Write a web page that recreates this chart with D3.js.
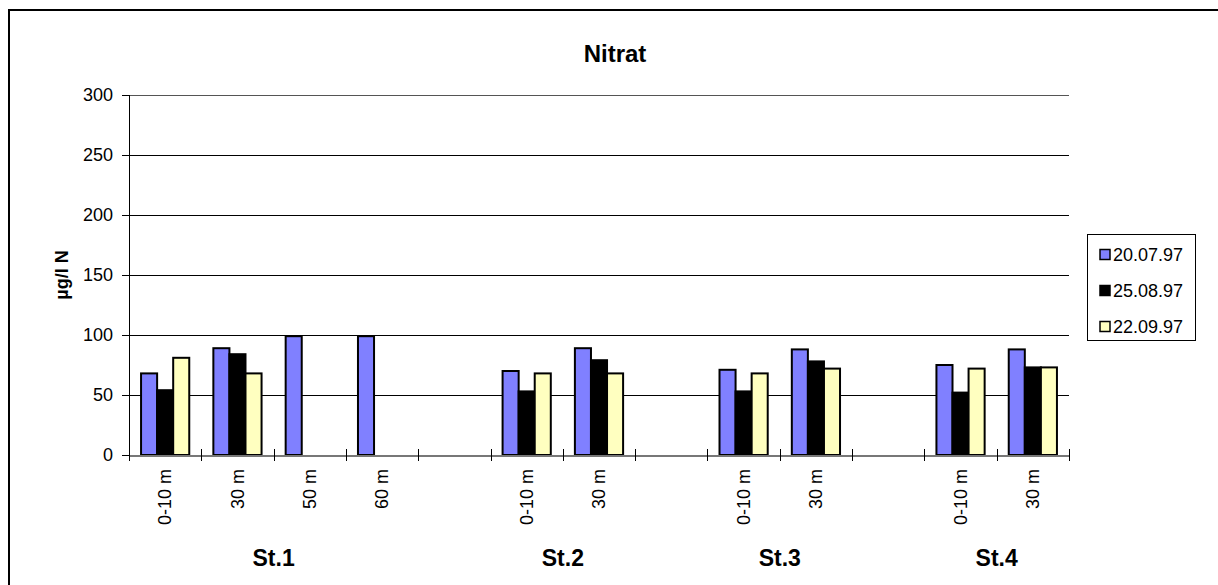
<!DOCTYPE html>
<meta charset="utf-8">
<script src="https://d3js.org/d3.v7.min.js"></script>
<style>
  body { margin: 0; background: #fff; }
  text { font-family: Arial, "Liberation Sans", sans-serif; fill: #000; }
  line, path.domain { shape-rendering: crispEdges; }
</style>
<svg id="chart" width="1218" height="585"></svg>
<script>
  // depth labels per category (blank ones separate the stations)
  var catLabels = ["0-10 m", "30 m", "50 m", "60 m", "", "0-10 m", "30 m", "", "0-10 m", "30 m", "", "0-10 m", "30 m"];
  var stations = ["St.1", "St.2", "St.3", "St.4"];
  var stationCats = [[0, 3], [5, 6], [8, 9], [11, 12]];
  var seriesNames = ["20.07.97", "25.08.97", "22.09.97"];
  var s1 = [68, 89, 99, 99, null, 70, 89, null, 71, 88, null, 75, 88];
  var s2 = [54, 84, null, null, null, 53, 79, null, 53, 78, null, 52, 73];
  var s3 = [81, 68, null, null, null, 68, 68, null, 68, 72, null, 72, 73];
  var yTicks = [0, 50, 100, 150, 200, 250, 300];
  var colors = ["#8080ff", "#000000", "#ffffc0"];

  var svg = d3.select("svg");
  var pLeft = 129, pRight = 1069, pTop = 95, pBottom = 455;

  // outer chart border
  svg.append("rect")
    .attr("x", 9).attr("y", 10)
    .attr("width", 1240).attr("height", 600)
    .attr("fill", "none").attr("stroke", "#000").attr("stroke-width", 2);

  var y = d3.scaleLinear().domain([0, 300]).range([pBottom, pTop]);
  var x0 = d3.scaleBand().domain(d3.range(catLabels.length)).range([pLeft, pRight]);
  var x1 = d3.scaleBand().domain(d3.range(seriesNames.length))
    .range([0, x0.bandwidth()]).paddingOuter(0.75);
  var xb = d3.scaleLinear().domain([0, catLabels.length]).range([pLeft, pRight]);

  // gridlines
  svg.append("g")
    .selectAll("line")
    .data(yTicks.filter(function (d) { return d > 0; }))
    .enter().append("line")
    .attr("x1", pLeft).attr("x2", pRight)
    .attr("y1", function (d) { return y(d); })
    .attr("y2", function (d) { return y(d); })
    .attr("stroke", function (d) { return d == 300 ? "#555" : "#000"; })
    .attr("stroke-width", 1);

  // y axis
  var yAxis = svg.append("g")
    .attr("transform", "translate(" + pLeft + ",0)")
    .call(d3.axisLeft(y).tickValues(yTicks).tickSize(7).tickPadding(9));
  yAxis.select(".domain").attr("stroke", "#000");
  yAxis.selectAll("text").style("font-size", "18px");

  // bars
  var all = [s1, s2, s3];
  all.forEach(function (vals, si) {
    svg.append("g")
      .selectAll("rect")
      .data(vals.map(function (v, i) { return { i: i, v: v }; }).filter(function (d) { return d.v != null; }))
      .enter().append("rect")
      .attr("x", function (d) { return x0(d.i) + x1(si); })
      .attr("width", x1.bandwidth())
      .attr("y", function (d) { return y(d.v); })
      .attr("height", function (d) { return y(0) - y(d.v); })
      .attr("fill", colors[si])
      .attr("stroke", "#000")
      .attr("stroke-width", 2);
  });

  // x axis with ticks between categories
  var xAxis = svg.append("g")
    .attr("transform", "translate(0," + pBottom + ")")
    .call(d3.axisBottom(xb).tickValues(d3.range(catLabels.length + 1)).tickFormat("").tickSizeOuter(0));
  xAxis.select(".domain").attr("stroke", "#777").attr("stroke-width", 2);
  xAxis.selectAll(".tick line").attr("y1", -6).attr("y2", 6).attr("stroke", "#000");

  // category labels
  svg.append("g")
    .selectAll("text")
    .data(catLabels)
    .enter().append("text")
    .attr("transform", function (d, i) {
      return "translate(" + (x0(i) + x0.bandwidth() / 2) + ",469) rotate(-90)";
    })
    .attr("dy", "0.35em")
    .attr("text-anchor", "end")
    .style("font-size", "18px")
    .text(function (d) { return d; });

  // station labels
  svg.append("g")
    .selectAll("text")
    .data(stations)
    .enter().append("text")
    .attr("x", function (d, i) {
      var c = stationCats[i];
      return (x0(c[0]) + x0(c[1]) + x0.bandwidth()) / 2;
    })
    .attr("y", 566)
    .attr("text-anchor", "middle")
    .style("font-size", "23px")
    .style("font-weight", "bold")
    .text(function (d) { return d; });

  // title
  svg.append("text")
    .attr("x", 615).attr("y", 62)
    .attr("text-anchor", "middle")
    .style("font-size", "24px")
    .style("font-weight", "bold")
    .text("Nitrat");

  // y axis title
  svg.append("text")
    .attr("transform", "translate(68," + (pTop + pBottom) / 2 + ") rotate(-90)")
    .attr("text-anchor", "middle")
    .style("font-size", "18px")
    .style("font-weight", "bold")
    .text("µg/l N");

  // legend
  var legend = svg.append("g");
  legend.append("rect")
    .attr("x", 1087.5).attr("y", 234.5)
    .attr("width", 108).attr("height", 106)
    .attr("fill", "#fff").attr("stroke", "#000").attr("stroke-width", 1);
  var rows = legend.selectAll("g.row")
    .data(seriesNames)
    .enter().append("g")
    .attr("class", "row")
    .attr("transform", function (d, i) { return "translate(1100," + (254.5 + i * 36) + ")"; });
  rows.append("rect")
    .attr("x", 0).attr("y", -5)
    .attr("width", 10).attr("height", 10)
    .attr("fill", function (d, i) { return colors[i]; })
    .attr("stroke", "#000").attr("stroke-width", 1.5);
  rows.append("text")
    .attr("x", 13).attr("dy", "0.36em")
    .style("font-size", "18px")
    .text(function (d) { return d; });
</script>
